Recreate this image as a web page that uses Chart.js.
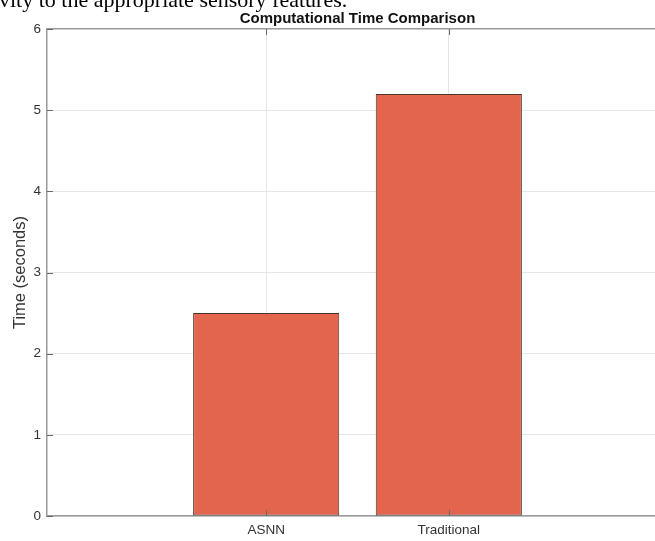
<!DOCTYPE html>
<html lang="en">
  <head>
    <meta charset="UTF-8" />
    <title>Computational Time Comparison</title>
    <style>
      html, body { margin: 0; padding: 0; background: #fff; }
      body { width: 655px; height: 541px; overflow: hidden; position: relative; }
      .wrap { position: absolute; left: 0; top: 0; width: 680px; height: 541px; }
      .caption {
        position: absolute; left: -1px; top: -12px; margin: 0;
        font-family: "Liberation Serif", "DejaVu Serif", serif;
        font-size: 22px; line-height: 24px; color: #000; white-space: nowrap;
      }
    </style>
  </head>
  <body>
    <div class="wrap"><canvas id="myChart" width="680" height="541"></canvas></div>
    <p class="caption">vity to the appropriate sensory features.</p>

    <script src="https://cdn.jsdelivr.net/npm/chart.js"></script>

    <script>
      // data
      const categories = ["ASNN", "Traditional"];
      const times = [2.5, 5.2];
      const yTicks = [0, 1, 2, 3, 4, 5, 6];

      const font = "'Liberation Sans', Arial, sans-serif";
      const points = categories.map((c, i) => ({ x: i + 1, y: times[i] }));

      // matlab style inward tick marks + title over the plot area
      const matlabBits = {
        id: "matlabBits",
        afterDraw(chart) {
          const c = chart.ctx;
          const a = chart.chartArea;
          const xs = chart.scales.x;
          const ys = chart.scales.y;
          c.save();
          c.strokeStyle = "#6a6a6a";
          c.lineWidth = 1;
          c.beginPath();
          categories.forEach((_, i) => {
            const px = Math.round(xs.getPixelForValue(i + 1)) + 0.5;
            c.moveTo(px, a.bottom); c.lineTo(px, a.bottom - 6);
            c.moveTo(px, a.top); c.lineTo(px, a.top + 6);
          });
          yTicks.forEach((v) => {
            const py = Math.round(ys.getPixelForValue(v)) + 0.5;
            c.moveTo(a.left, py); c.lineTo(a.left + 6, py);
          });
          c.stroke();
          c.fillStyle = "#111";
          c.font = "bold 15px " + font;
          c.textAlign = "center";
          c.textBaseline = "alphabetic";
          c.fillText("Computational Time Comparison", (a.left + a.right) / 2, 23);
          c.restore();
        },
      };

      const ctx = document.getElementById("myChart");
      new Chart(ctx, {
        type: "bar",
        data: {
          datasets: [
            {
              label: "Time",
              data: points,
              backgroundColor: "#e4654d",
              borderColor: "#4a3631",
              borderWidth: 1,
              borderSkipped: false,
              barPercentage: 0.8,
              categoryPercentage: 1.0,
            },
          ],
        },
        options: {
          responsive: false,
          animation: false,
          layout: { padding: { top: 29, right: 12, left: 0, bottom: 0 } },
          plugins: { legend: { display: false }, tooltip: { enabled: false } },
          scales: {
            x: {
              type: "linear",
              offset: false,
              min: -0.2,
              max: 3.2,
              afterBuildTicks: (s) => { s.ticks = categories.map((_, i) => ({ value: i + 1 })); },
              afterFit: (s) => { s.height = 25; },
              ticks: {
                callback: (v) => categories[v - 1] || "",
                color: "#333",
                font: { family: font, size: 13.5 },
                padding: 6,
                maxRotation: 0,
              },
              grid: { color: "#e6e6e6", drawTicks: false, offset: false },
              border: { color: "#9a9a9a", width: 1.5 },
            },
            y: {
              min: 0,
              max: 6,
              afterBuildTicks: (s) => { s.ticks = yTicks.map((v) => ({ value: v })); },
              afterFit: (s) => { s.width = 47; },
              ticks: {
                color: "#333",
                font: { family: font, size: 13.5 },
                padding: 6,
              },
              grid: {
                color: (c) => (c.tick && c.tick.value === 6 ? "#9a9a9a" : "#e6e6e6"),
                lineWidth: (c) => (c.tick && c.tick.value === 6 ? 1.5 : 1),
                drawTicks: false,
              },
              border: { color: "#9a9a9a", width: 1.5 },
              title: {
                display: true,
                text: "Time (seconds)",
                color: "#333",
                font: { family: font, size: 16.5 },
                padding: { top: 11, bottom: 0 },
              },
            },
          },
        },
        plugins: [matlabBits],
      });
    </script>
  </body>
</html>
